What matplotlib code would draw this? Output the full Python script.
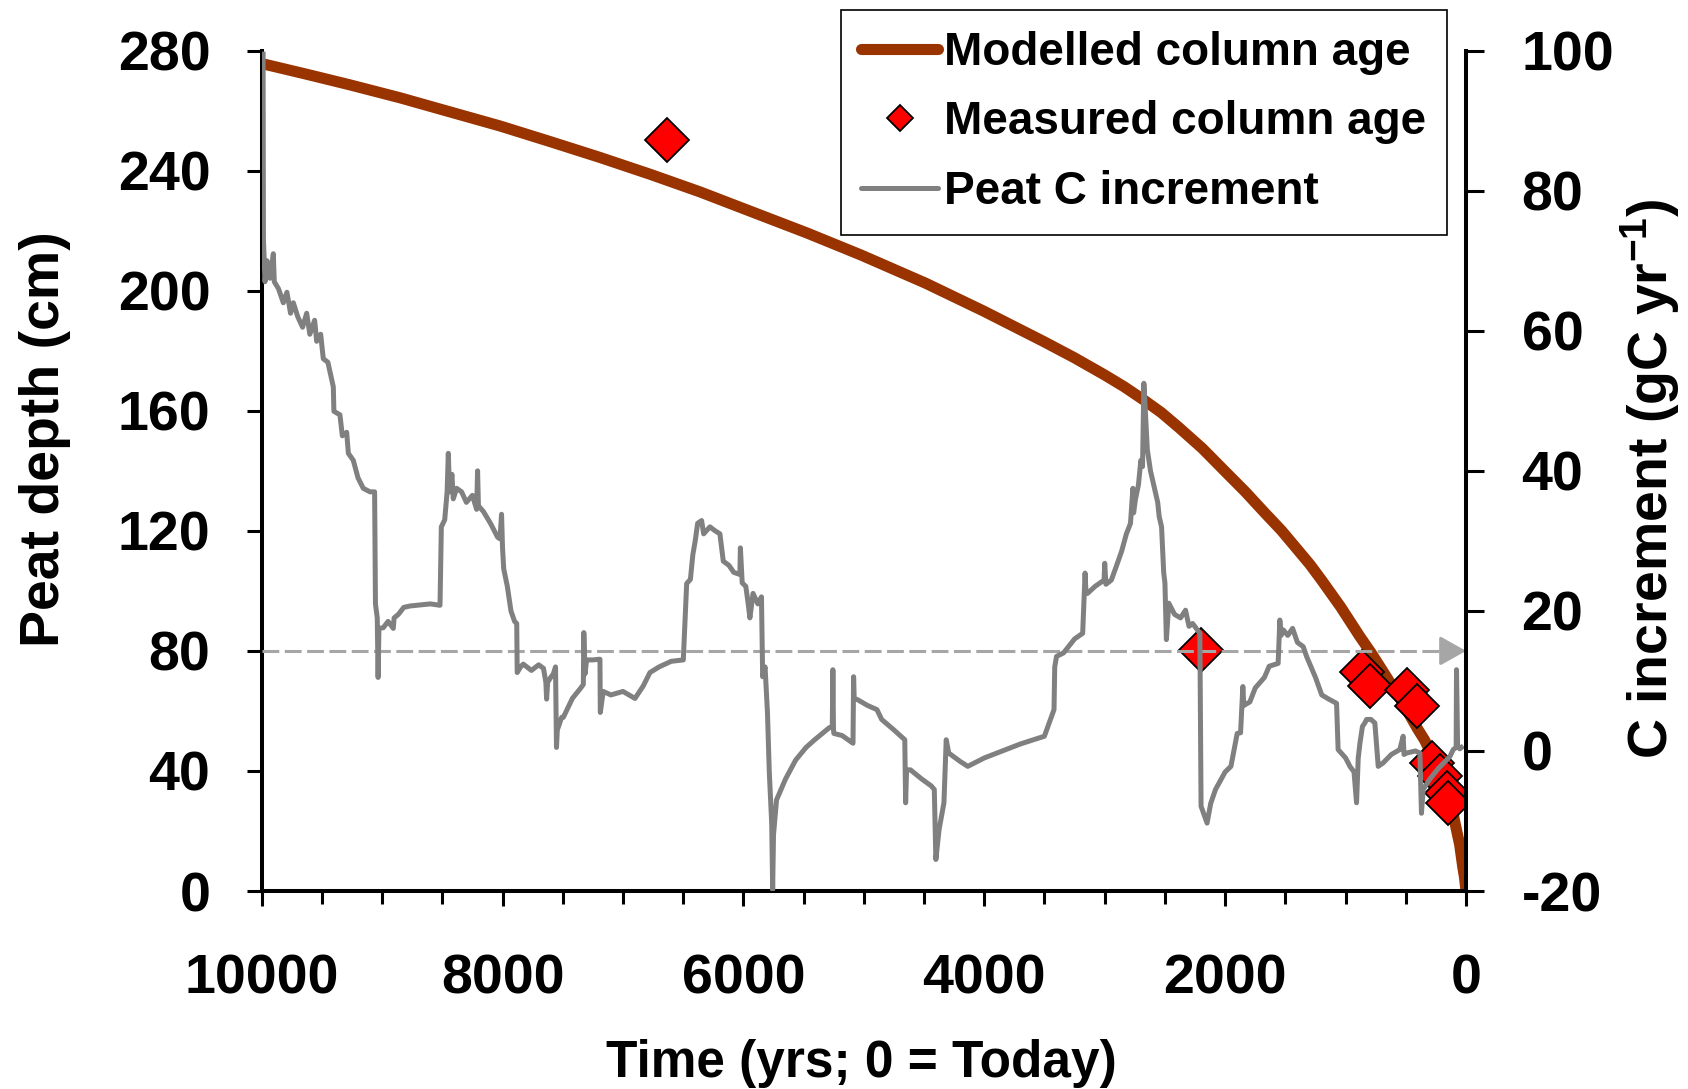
import matplotlib.pyplot as plt
from matplotlib.lines import Line2D
from matplotlib.ticker import MultipleLocator

plt.rcParams["font.family"] = ["Liberation Sans", "DejaVu Sans"]
plt.rcParams["font.weight"] = "bold"
plt.rcParams["axes.labelweight"] = "bold"
plt.rcParams["axes.unicode_minus"] = False
plt.rcParams["mathtext.fontset"] = "custom"
plt.rcParams["mathtext.rm"] = "Liberation Sans:bold"
plt.rcParams["mathtext.default"] = "rm"

# Modelled column age: peat depth (cm) reached at each time (yrs before today)
model_years = [10000, 9633, 9267, 8852, 8437, 8021, 7605, 7190, 6774, 6358,
               5943, 5469, 5023, 4486, 4004, 3503, 3253, 3003, 2838, 2672,
               2530, 2386, 2190, 1993, 1832, 1671, 1532, 1394, 1296, 1198,
               1040, 885, 782, 679, 540, 402, 344, 286, 210, 134,
               107, 80, 53, 27, 13, 0]
model_depth = [275.7, 272.2, 268.6, 264.3, 259.6, 254.9, 249.7, 244.4, 238.8, 232.9,
               226.5, 219.2, 211.9, 202.5, 193.2, 183.0, 177.7, 172.0, 168.0, 163.5,
               159.4, 154.5, 147.5, 139.5, 133.0, 126.0, 120.1, 113.5, 108.8, 103.5,
               94.6, 85.0, 79.0, 72.5, 63.7, 54.0, 50.3, 45.5, 38.8, 29.0,
               25.6, 20.5, 15.5, 8.0, 4.7, 0]

# Dated samples (measured column age)
measured_years = [6631, 2198, 867, 799, 494, 411, 286, 217, 162, 148]
measured_depth = [250.3, 80.3, 73, 68.2, 67, 61.5, 42.7, 38.2, 32.6, 29.3]

# Peat C increment (gC yr-1), right-hand axis
increment_years = [
    9988, 9985, 9972, 9955, 9930, 9903, 9895, 9860, 9820, 9790,
    9760, 9737, 9700, 9660, 9626, 9600, 9560, 9543, 9510, 9488,
    9450, 9405, 9400, 9350, 9330, 9294, 9280, 9239, 9200, 9156,
    9100, 9062, 9055, 9040, 9033, 9026, 8990, 8950, 8907, 8900,
    8865, 8820, 8768, 8600, 8519, 8508, 8480, 8460, 8450, 8440,
    8420, 8409, 8381, 8340, 8300, 8250, 8215, 8207, 8200, 8159,
    8100, 8040, 8021, 8008, 8000, 7990, 7960, 7930, 7900, 7882,
    7878, 7850, 7828, 7760, 7700, 7660, 7640, 7634, 7625, 7600,
    7578, 7560, 7552, 7545, 7509, 7495, 7420, 7350, 7329, 7325,
    7315, 7302, 7250, 7191, 7188, 7164, 7100, 7000, 6900, 6831,
    6776, 6700, 6600, 6499, 6471, 6440, 6420, 6400, 6380, 6347,
    6330, 6278, 6240, 6195, 6167, 6120, 6080, 6029, 6025, 6010,
    5980, 5960, 5946, 5920, 5880, 5850, 5840, 5820, 5800, 5785,
    5765, 5757, 5750, 5725, 5650, 5566, 5480, 5408, 5288, 5262,
    5257, 5252, 5249, 5180, 5090, 5085, 5080, 5050, 4970, 4891,
    4852, 4750, 4660, 4653, 4645, 4613, 4520, 4440, 4415, 4402,
    4375, 4335, 4320, 4316, 4295, 4200, 4137, 4000, 3850, 3700,
    3501, 3440, 3421, 3415, 3400, 3342, 3250, 3183, 3163, 3155,
    3143, 3080, 3005, 3000, 2990, 2945, 2905, 2860, 2820, 2786,
    2766, 2760, 2746, 2720, 2700, 2686, 2675, 2667, 2646, 2620,
    2560, 2548, 2528, 2510, 2500, 2488, 2468, 2420, 2370, 2329,
    2300, 2270, 2210, 2205, 2200, 2150, 2120, 2080, 2000, 1952,
    1900, 1872, 1853, 1845, 1795, 1750, 1700, 1674, 1634, 1560,
    1546, 1535, 1518, 1480, 1440, 1400, 1352, 1324, 1250, 1198,
    1150, 1075, 1062, 1000, 964, 930, 909, 895, 881, 860,
    840, 826, 790, 757, 729, 688, 620, 550, 522, 515,
    494, 420, 383, 370, 356, 300, 230, 134, 106, 82,
    79, 70, 52, 38,
]
increment_gc = [
    99.5, 73, 67, 70, 67.5, 71, 67, 66, 64, 65.5,
    62.5, 64, 62, 60.5, 62.5, 59.5, 61.5, 58.5, 59.5, 56,
    55.5, 52, 48.5, 48, 45, 45.5, 42.5, 41.5, 39, 37.5,
    37, 37, 21, 19, 10.5, 17.5, 17.6, 18.5, 17.5, 19,
    19.5, 20.5, 20.7, 21, 20.8, 32, 33, 37, 42.5, 37,
    39.5, 36, 37.5, 37, 35.5, 36.5, 34.5, 40, 35, 34.2,
    32.5, 30.5, 30.3, 33.8, 29, 26, 23.5, 20, 18.5, 18.2,
    11.2, 12, 12.4, 11.5, 12.3, 11.8, 9.8, 7.4, 9.8, 10.5,
    11, 12, 0.5, 3, 4.8, 4.8, 7.5, 9, 9.5, 16.9,
    11, 13, 13, 13.1, 5.5, 8.5, 8, 8.5, 7.5, 9.3,
    11.2, 12, 12.8, 13, 23.9, 24.5, 28, 30, 32.5, 32.9,
    31, 32, 31.5, 31, 27.1, 26.5, 25.5, 25.2, 29, 24,
    23.5, 21, 19, 22.5, 21, 22, 10.6, 12, 5.4, -3,
    -10.3, -19.8, -12, -7, -4, -1.3, 0.5, 1.6, 3.3, 3.5,
    11.6, 3, 2.5, 2.2, 1.1, 10.6, 7.5, 7.3, 6.5, 5.9,
    4.5, 3, 1.6, -7.4, -2.7, -2.7, -4, -5, -5.5, -15.5,
    -11.2, -7.4, 0, 1.6, -0.3, -1.5, -2.2, -1, 0, 1,
    2.1, 5, 5.9, 12, 13.5, 14, 16, 16.8, 25.4, 22.5,
    22.5, 23.5, 24.4, 26.8, 23.8, 24.4, 26.3, 28.5, 31, 32.5,
    37.5, 34, 35.8, 38, 41.5, 40.6, 52.5, 50, 43, 40,
    35.5, 33.5, 32, 25.4, 24, 15.9, 21.1, 19.5, 19, 20.1,
    17.8, 18.2, 16.8, 4.9, -7.9, -10.3, -7.5, -5.5, -3, -2.2,
    2.5, 2.6, 9.2, 6.5, 7, 9, 10, 10.5, 12.1, 12.5,
    18.7, 16.5, 17.3, 16.5, 17.5, 15.5, 14.9, 13.5, 10.5, 8,
    7.5, 6.8, 0.2, -1, -2.2, -3, -7.4, -1, 1.1, 3.5,
    4.0, 4.5, 4.5, 4.0, -2.2, -1.7, -0.5, 0.2, 2.1, -0.5,
    -0.3, 0, -0.3, -8.9, -5.5, -4, -2.5, -0.8, 0.2, 0.5,
    11.6, 0.8, 0.3, 0.5,
]

# depth marked by the dashed arrow
marker_depth = 80

BROWN = "#993300"
GREY = "#808080"
LIGHT_GREY = "#A6A6A6"

fig = plt.figure(figsize=(16.88, 10.89), dpi=100)
ax = fig.add_axes([0.155, 0.1818, 0.7135, 0.7717])
ax2 = ax.twinx()

ax.plot(model_years, model_depth, color=BROWN, lw=8, zorder=2,
        solid_joinstyle="round")
ax.plot(measured_years, measured_depth, ls="none", marker="D", ms=22,
        mfc="#FF0000", mec="black", mew=1.3, zorder=3)
ax.plot([10000, 170], [marker_depth, marker_depth], color=LIGHT_GREY,
        lw=2.2, dashes=(5.5, 1.8), zorder=4)
ax.annotate("", xy=(0, marker_depth), xytext=(190, marker_depth),
            arrowprops=dict(arrowstyle="-|>,head_length=0.8,head_width=0.45",
                            color=LIGHT_GREY, lw=2.2, shrinkA=0, shrinkB=0,
                            mutation_scale=20),
            zorder=4)

ax2.plot(increment_years, increment_gc, color=GREY, lw=3.6)

ax.set_xlim(10000, 0)
ax.set_ylim(0, 280)
ax2.set_ylim(-20, 100)

ax.set_xticks(range(0, 10001, 2000))
ax.xaxis.set_minor_locator(MultipleLocator(500))
ax.set_yticks(range(0, 281, 40))
ax2.set_yticks(range(-20, 101, 20))

ax.tick_params(axis="x", which="major", direction="out", length=11, width=2.2,
               labelsize=40, pad=34)
ax.tick_params(axis="x", which="minor", direction="out", length=9.5, width=2.2)
ax.tick_params(axis="y", direction="out", length=11, width=2.2,
               labelsize=40, pad=26)
ax2.tick_params(axis="y", direction="out", length=13, width=2.2,
                labelsize=40, pad=27)

for name in ("top", "right"):
    ax.spines[name].set_visible(False)
for name in ("top", "left", "bottom"):
    ax2.spines[name].set_visible(False)
ax.spines["left"].set_linewidth(2.9)
ax.spines["bottom"].set_linewidth(2.9)
ax2.spines["right"].set_linewidth(2.9)

ax.set_xlabel("Time (yrs; 0 = Today)", fontsize=37, va="center")
ax.xaxis.set_label_coords(0.498, -0.205)
ax.set_ylabel("Peat depth (cm)", fontsize=40, va="center")
ax.yaxis.set_label_coords(-0.18, 0.538)
ax2.set_ylabel("C increment (gC yr$^{-1}$)", fontsize=40, va="center",
               rotation=90)
ax2.yaxis.set_label_coords(1.153, 0.49)

handles = [
    Line2D([], [], color=BROWN, lw=8, solid_capstyle="round"),
    Line2D([], [], ls="none", marker="D", ms=13, mfc="#FF0000",
           mec="black", mew=1.3),
    Line2D([], [], color=GREY, lw=3.6, solid_capstyle="round"),
]
labels = ["Modelled column age", "Measured column age", "Peat C increment"]
leg = ax2.legend(handles, labels, loc="upper right",
                 bbox_to_anchor=(1447 / 1688, 1 - 10 / 1089),
                 bbox_transform=fig.transFigure, fontsize=33,
                 frameon=True, fancybox=False, framealpha=1,
                 edgecolor="black", borderpad=0.45, labelspacing=0.56,
                 handlelength=1.68, handletextpad=0.13, borderaxespad=0)
leg.get_frame().set_linewidth(1.2)

fig.savefig("out.png", dpi=100)
